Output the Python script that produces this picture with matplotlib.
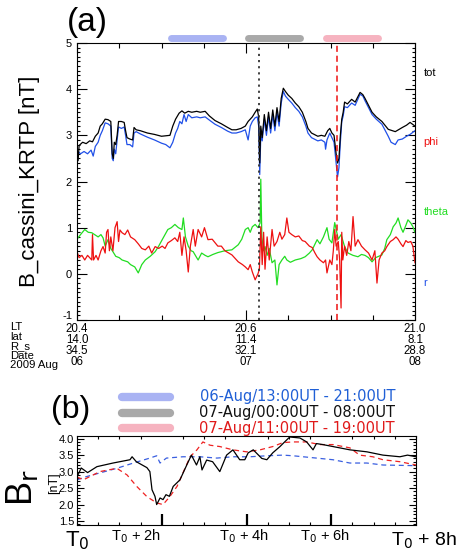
import matplotlib
matplotlib.use("Agg")
import matplotlib.pyplot as plt
from matplotlib.lines import Line2D
from matplotlib.ticker import MultipleLocator, FixedLocator, FuncFormatter
import matplotlib.transforms as mtransforms
from matplotlib import font_manager

plt.rcParams['font.family'] = ['Liberation Sans', 'DejaVu Sans']
_names = {f.name for f in font_manager.fontManager.ttflist}
NARROW = 'Liberation Sans Narrow' if 'Liberation Sans Narrow' in _names else 'Liberation Sans'

# ---------------- Panel (a) data (hours from 2009-08-06 00:00) ----------------
tot = [(0, 2.72), (0.15, 2.45), (0.3, 2.78), (0.8, 2.85), (1.3, 2.82), (1.8, 2.88), (2.2, 2.86),
       (2.6, 2.98), (3.0, 3.05), (3.3, 3.2), (3.6, 3.25), (4.0, 3.35), (4.4, 3.34), (4.8, 3.3),
       (5.0, 2.6), (5.15, 2.5), (5.3, 2.85), (5.5, 2.8), (5.7, 3.0), (5.9, 3.3), (6.3, 3.3),
       (6.7, 3.28), (6.9, 3.1), (7.1, 2.95), (7.5, 2.92), (7.9, 2.9), (8.1, 3.17), (8.4, 3.12),
       (9.0, 3.1), (10, 3.05), (11, 3.02), (12, 2.98), (12.6, 2.99), (13.2, 3.0), (13.6, 3.2),
       (14.0, 3.35), (14.5, 3.48), (14.9, 3.53), (15.3, 3.48), (15.8, 3.52), (16.3, 3.5),
       (17, 3.52), (17.5, 3.5), (18.2, 3.52), (18.8, 3.42), (19.6, 3.32), (20.5, 3.25),
       (21.4, 3.17), (22.0, 3.12), (22.6, 3.12), (23.3, 3.15), (23.9, 3.2), (24.3, 3.3),
       (24.9, 3.4), (25.3, 3.5), (25.6, 3.57), (25.8, 3.4), (25.95, 2.4), (26.1, 3.2),
       (26.3, 2.95), (26.6, 3.45), (26.9, 3.1), (27.2, 3.5), (27.5, 3.15), (27.8, 3.55),
       (28.1, 3.2), (28.4, 3.6), (28.7, 3.3), (29.0, 3.8), (29.3, 4.02), (29.6, 3.95),
       (30.0, 3.87), (30.5, 3.8), (31.0, 3.7), (31.5, 3.62), (32.0, 3.5), (32.5, 3.3),
       (32.8, 3.15), (33.3, 3.05), (34.2, 2.98), (34.7, 3.0), (35.2, 2.98), (35.6, 3.1),
       (35.9, 3.15), (36.2, 3.05), (36.5, 3.0), (36.8, 2.6), (37.0, 2.4), (37.2, 2.5),
       (37.4, 3.0), (37.6, 3.35), (37.8, 3.5), (38.0, 3.72), (38.4, 3.68), (39.0, 3.78),
       (39.5, 3.72), (40.2, 3.93), (40.6, 3.88), (40.9, 3.8), (41.4, 3.65), (41.9, 3.5),
       (42.5, 3.4), (43.3, 3.3), (44.2, 3.13), (45.2, 3.08), (46.2, 3.17), (46.8, 3.22),
       (47.3, 3.28), (48, 3.2)]

r_comp = [(0, 2.3), (0.15, 2.65), (0.5, 2.6), (1.0, 2.65), (1.5, 2.6), (2.0, 2.68), (2.3, 2.55),
          (2.6, 2.76), (3.0, 2.85), (3.3, 3.0), (3.6, 3.1), (4.0, 3.27), (4.4, 3.25), (4.8, 3.2),
          (5.0, 2.5), (5.15, 2.45), (5.3, 2.7), (5.5, 2.6), (5.7, 2.9), (5.9, 3.18), (6.3, 3.15),
          (6.7, 3.18), (6.9, 3.0), (7.1, 2.8), (7.5, 2.8), (7.9, 2.75), (8.1, 3.05), (8.4, 3.08),
          (9.0, 3.03), (10, 2.96), (11, 2.9), (12, 2.83), (12.6, 2.8), (13.2, 2.73), (13.6, 2.85),
          (14.0, 3.05), (14.3, 3.15), (14.6, 3.3), (14.9, 3.25), (15.2, 3.45), (15.5, 3.3),
          (15.8, 3.45), (16.3, 3.38), (17, 3.4), (17.5, 3.38), (18.2, 3.4), (18.8, 3.33),
          (19.6, 3.24), (20.5, 3.17), (21.4, 3.09), (22.0, 3.05), (22.6, 3.05), (23.3, 3.08),
          (23.9, 3.12), (24.3, 2.9), (24.6, 3.2), (24.9, 3.3), (25.3, 3.38), (25.6, 3.4),
          (25.8, 3.2), (25.95, 2.15), (26.1, 3.0), (26.3, 2.88), (26.6, 3.35), (26.9, 3.0),
          (27.2, 3.4), (27.5, 3.05), (27.8, 3.45), (28.1, 3.1), (28.4, 3.5), (28.7, 3.2),
          (29.0, 3.7), (29.3, 3.95), (29.6, 3.85), (30.0, 3.78), (30.5, 3.7), (31.0, 3.6),
          (31.5, 3.52), (32.0, 3.4), (32.5, 3.2), (32.8, 3.05), (33.3, 2.95), (34.2, 2.88),
          (34.7, 2.9), (35.2, 2.85), (35.3, 2.7), (35.5, 2.9), (35.9, 3.05), (36.2, 2.95),
          (36.5, 2.85), (36.8, 2.4), (37.0, 2.1), (37.2, 2.3), (37.4, 2.85), (37.6, 3.3),
          (37.8, 3.42), (38.0, 3.62), (38.4, 3.6), (39.0, 3.7), (39.5, 3.65), (40.2, 3.89),
          (40.6, 3.85), (40.9, 3.75), (41.4, 3.6), (41.9, 3.45), (42.5, 3.35), (43.3, 3.24),
          (44.2, 2.98), (44.6, 2.85), (45.2, 2.8), (45.6, 2.9), (46.2, 2.92), (46.8, 2.98),
          (47.3, 3.02), (48, 3.1)]

theta = [(0, 0.75), (0.5, 0.85), (1.1, 0.96), (1.6, 0.9), (2.1, 0.89), (2.5, 0.85), (3.0, 0.8),
         (3.4, 0.85), (3.7, 0.78), (4.0, 0.6), (4.4, 0.74), (4.8, 0.55), (5.1, 0.48), (5.5, 0.38),
         (6.0, 0.35), (6.4, 0.3), (6.8, 0.28), (7.2, 0.26), (7.6, 0.2), (8.2, 0.15), (8.7, 0.02),
         (9.2, 0.2), (9.7, 0.3), (10.4, 0.38), (11.1, 0.48), (11.6, 0.6), (12.1, 0.74),
         (12.5, 0.85), (12.9, 0.96), (13.4, 1.0), (13.9, 1.07), (14.4, 1.0), (14.9, 0.96),
         (15.1, 1.21), (15.4, 0.8), (15.8, 0.6), (16.2, 0.5), (16.5, 0.48), (17.0, 0.35),
         (17.2, 0.3), (17.7, 0.45), (18.2, 0.4), (18.6, 0.37), (19.3, 0.42), (20, 0.46),
         (21, 0.5), (22, 0.52), (22.9, 0.63), (23.4, 0.75), (23.9, 0.96), (24.3, 1.0),
         (24.6, 0.9), (24.9, 1.02), (25.3, 1.07), (25.7, 1.0), (26.0, 1.1), (26.1, 2.05),
         (26.25, 0.8), (26.5, 0.5), (26.7, 0.59), (27.0, 0.4), (27.3, 0.55), (27.7, 0.24),
         (28.1, 0.3), (28.4, -0.24), (28.7, 0.2), (29.1, 0.3), (29.5, 0.38), (29.8, 0.3),
         (30.3, 0.25), (31, 0.3), (31.8, 0.33), (32.4, 0.37), (33.0, 0.45), (33.4, 0.52),
         (34.1, 0.74), (34.5, 0.65), (35.0, 0.8), (35.5, 1.0), (35.8, 0.75), (36.2, 0.67),
         (36.6, 1.11), (37.1, 0.75), (37.5, 0.85), (38.0, 0.59), (38.5, 0.45), (39.2, 0.4),
         (39.9, 0.37), (40.4, 0.42), (40.9, 0.4), (41.4, 0.35), (41.9, 0.26), (42.4, 0.35),
         (43.3, 0.41), (43.7, 0.55), (44.0, 0.74), (44.5, 0.85), (44.9, 1.02), (45.3, 1.1),
         (45.6, 1.21), (46.0, 1.0), (46.3, 0.9), (46.7, 1.05), (47.0, 1.17), (47.4, 1.1),
         (47.7, 1.02), (48, 0.9)]

phi = [(0, 0.48), (0.3, 0.35), (0.7, 0.4), (1.1, 0.3), (1.5, 0.4), (1.8, 0.35), (2.1, 0.3),
       (2.2, 0.85), (2.35, 0.3), (2.7, 0.4), (3.0, 0.3), (3.4, 0.5), (3.7, 0.59), (4.0, 0.45),
       (4.2, 0.9), (4.4, 0.96), (4.6, 0.5), (4.8, 0.8), (5.1, 0.5), (5.4, 1.0), (5.7, 1.13),
       (5.9, 0.7), (6.1, 0.95), (6.4, 0.89), (6.8, 0.85), (7.2, 0.95), (7.6, 0.8), (8.2, 0.74),
       (8.7, 0.65), (9.2, 0.55), (9.7, 0.52), (10.2, 0.6), (10.6, 0.45), (11.1, 0.59),
       (11.6, 0.55), (12.1, 0.6), (12.5, 0.55), (12.9, 0.67), (13.4, 0.72), (13.9, 0.78),
       (14.3, 0.7), (14.6, 0.9), (14.9, 0.4), (15.2, 0.8), (15.5, 0.5), (15.8, 0.04),
       (16.1, 0.6), (16.5, 0.96), (16.8, 0.6), (17.2, 0.96), (17.7, 0.8), (18.1, 1.0),
       (18.6, 0.74), (19.2, 0.75), (20, 0.6), (20.5, 0.6), (21, 0.5), (22, 0.41), (22.9, 0.26),
       (23.5, 0.2), (23.9, 0.15), (24.3, 0.09), (24.6, 0.2), (24.9, 0.04), (25.3, -0.13),
       (25.7, 0.0), (25.9, 0.1), (26.1, 1.02), (26.3, 0.2), (26.5, 0.9), (26.7, 0.1),
       (27.0, 0.8), (27.3, 0.3), (27.7, 0.96), (28.0, 0.6), (28.4, 0.7), (28.8, 0.9),
       (29.1, 0.75), (29.5, 0.85), (29.8, 1.21), (30.1, 0.9), (30.5, 0.85), (31, 0.8),
       (31.5, 0.82), (32.0, 0.72), (32.4, 0.7), (33.0, 0.6), (33.4, 0.57), (33.8, 0.45),
       (34.1, 0.37), (34.5, 0.3), (35.0, 0.24), (35.3, 0.3), (35.5, 0.02), (35.9, 0.3),
       (36.2, 0.2), (36.4, 0.5), (36.6, 0.96), (36.8, 0.6), (37.1, 0.7), (37.3, 0.3),
       (37.5, -0.74), (37.6, 0.9), (37.75, 0.3), (38.0, 0.6), (38.3, 0.4), (38.6, 0.7),
       (38.9, 0.5), (39.2, 1.24), (39.5, 0.6), (39.9, 0.74), (40.4, 0.6), (40.9, 0.52),
       (41.4, 0.45), (41.9, 0.3), (42.3, 0.5), (42.6, -0.2), (42.9, 0.3), (43.3, 0.45),
       (43.7, 0.5), (44.0, 0.59), (44.5, 0.7), (44.9, 0.74), (45.3, 0.8), (45.6, 0.75),
       (46.0, 0.65), (46.3, 0.59), (46.7, 0.72), (47.0, 0.68), (47.4, 0.7), (47.7, 0.6),
       (48, 0.24)]

# interval bars (start, end hours) and event times
intervals = [(13, 21), (24, 32), (35, 43)]
interval_colors = ['#a9b3f3', '#a9a9a9', '#f6b3c0']
event_dotted = 25.8
event_dashed = 36.9

# x-axis annotation table
tick_hours = [0, 24, 48]
lt_vals = ['20.4', '20.6', '21.0']
lat_vals = ['14.0', '11.4', '8.1']
rs_vals = ['34.5', '32.1', '28.8']
date_vals = ['06', '07', '08']

# ---------------- Panel (b) data (hours from T0) ----------------
b_black = [(0, 2.84), (0.1, 3.11), (0.25, 2.97), (0.47, 3.15), (0.85, 3.26), (1.25, 3.36),
           (1.3, 3.45), (1.4, 3.3), (1.65, 3.12), (1.72, 3.0), (1.77, 2.45), (1.84, 2.25),
           (1.88, 2.0), (1.96, 2.2), (2.03, 2.15), (2.1, 2.3), (2.18, 2.25), (2.27, 2.55),
           (2.43, 2.75), (2.59, 3.2), (2.7, 3.5), (2.82, 3.2), (2.9, 3.45), (2.95, 3.05),
           (3.06, 3.35), (3.2, 3.3), (3.37, 3.0), (3.53, 3.5), (3.68, 3.66), (3.84, 3.36),
           (3.96, 3.36), (4.04, 3.57), (4.16, 3.66), (4.36, 3.4), (4.48, 3.36), (4.62, 3.57),
           (4.79, 3.76), (4.9, 3.9), (5.02, 4.05), (5.26, 4.02), (5.42, 3.9), (5.57, 3.66),
           (5.65, 3.85), (5.8, 3.82), (6.04, 3.76), (6.44, 3.66), (6.84, 3.6), (7.22, 3.5),
           (7.62, 3.45), (7.8, 3.5), (8.0, 3.45)]
b_red = [(0, 2.84), (0.15, 2.75), (0.54, 3.0), (0.94, 3.1), (1.18, 2.9), (1.41, 2.55),
         (1.65, 2.24), (1.88, 2.05), (2.03, 2.0), (2.19, 2.24), (2.36, 2.55), (2.5, 2.96),
         (2.67, 3.45), (2.83, 3.66), (2.97, 3.9), (3.14, 3.8), (3.37, 3.76), (3.68, 3.66),
         (4.0, 3.6), (4.32, 3.66), (4.62, 3.76), (4.86, 3.88), (5.1, 3.9), (5.42, 3.9),
         (5.73, 3.82), (6.04, 3.82), (6.44, 3.72), (6.67, 3.5), (6.98, 3.45), (7.22, 3.36),
         (7.62, 3.3), (8.0, 3.2)]
b_blue = [(0, 2.75), (0.2, 2.84), (0.54, 2.96), (0.94, 3.1), (1.33, 3.26), (1.72, 3.41),
          (1.88, 3.48), (1.96, 3.26), (2.11, 3.41), (2.5, 3.45), (2.9, 3.45), (3.3, 3.41),
          (3.68, 3.45), (4.08, 3.45), (4.48, 3.48), (4.86, 3.5), (5.1, 3.48), (5.65, 3.41),
          (6.04, 3.36), (6.44, 3.26), (6.84, 3.26), (7.22, 3.2), (8.0, 3.18)]
legend_labels = ['06-Aug/13:00UT - 21:00UT', '07-Aug/00:00UT - 08:00UT', '07-Aug/11:00UT - 19:00UT']
legend_text_colors = ['#1f5fd6', '#111111', '#e01a1a']
legend_bar_colors = ['#a9b3f3', '#a9a9a9', '#f6b3c0']


def unzip(pairs):
    return [p[0] for p in pairs], [p[1] for p in pairs]


W, H = 459, 552
fig = plt.figure(figsize=(W / 100, H / 100), dpi=100)

# ---------------- Panel (a) ----------------
axa = fig.add_axes([77 / W, 1 - 320 / H, 338 / W, 277 / H])
t, v = unzip(theta)
axa.plot(t, v, color='#22dd22', lw=0.9)
t, v = unzip(phi)
axa.plot(t, v, color='#ee1111', lw=0.9)
t, v = unzip(r_comp)
axa.plot(t, v, color='#2050e8', lw=0.9)
t, v = unzip(tot)
axa.plot(t, v, color='black', lw=0.9)

axa.axvline(event_dotted, color='#333333', ls=(0, (1.2, 2.2)), lw=1.3)
axa.axvline(event_dashed, color='#ee1111', ls=(0, (4, 2.5)), lw=1.1)

axa.set_xlim(0, 48)
axa.set_ylim(-1, 5)
axa.yaxis.set_major_locator(MultipleLocator(1))
axa.yaxis.set_minor_locator(MultipleLocator(0.1))
# the bottom label (-1) is drawn separately, slightly raised as in the original
axa.yaxis.set_major_formatter(FuncFormatter(lambda val, pos: '' if val < -0.5 else f'{val:.0f}'))
axa.xaxis.set_major_locator(FixedLocator(tick_hours))
axa.xaxis.set_minor_locator(MultipleLocator(6))
axa.tick_params(which='both', direction='in', top=True, right=True, labelsize=8, width=0.8)
axa.tick_params(which='major', length=7)
axa.tick_params(which='minor', length=3.5)
axa.tick_params(axis='y', which='minor', length=2.5)
axa.set_xticklabels([])
for s in axa.spines.values():
    s.set_linewidth(0.8)
ltrans = mtransforms.blended_transform_factory(axa.transAxes, axa.transData)
axa.text(-0.0145, -0.91, '-1', transform=ltrans, fontsize=8, ha='right', va='center')
axa.set_ylabel('B_cassini_KRTP [nT]', fontsize=16, family=[NARROW, 'DejaVu Sans'])
axa.yaxis.set_label_coords(-0.11, 0.5)

for (s0, s1), c in zip(intervals, interval_colors):
    axa.plot([s0 + 0.3, s1 - 0.3], [5.1, 5.1], color=c, lw=5, solid_capstyle='round',
             clip_on=False)

# right-side component labels
for lab, yv, c in [('tot', 4.35, 'black'), ('phi', 2.85, '#ee1111'),
                   ('theta', 1.35, '#22dd22'), ('r', -0.2, '#2050e8')]:
    axa.text(1.025, yv, lab, transform=ltrans, color=c, fontsize=8, va='center', ha='left')

# under-axis table
btrans = mtransforms.blended_transform_factory(axa.transData, fig.transFigure)
for h, a, b, c, d in zip(tick_hours, lt_vals, lat_vals, rs_vals, date_vals):
    axa.text(h, 1 - 322.5 / H, '\n'.join([a, b, c, d]), transform=btrans, ha='center', va='top',
             fontsize=8.3, linespacing=0.92)
fig.text(10 / W, 1 - 322.5 / H, 'LT\nlat\nR_s\nDate\n2009 Aug', ha='left', va='top',
         fontsize=8.1, linespacing=0.92)

fig.text(67 / W, 1 - 22 / H, '(a)', fontsize=24, va='center', ha='left')

# ---------------- Panel (b) ----------------
axb = fig.add_axes([77 / W, 1 - 525 / H, 339 / W, 89 / H])
t, v = unzip(b_blue)
axb.plot(t, v, color='#3a5fe0', lw=0.9, ls=(0, (4, 3)))
t, v = unzip(b_red)
axb.plot(t, v, color='#ee2222', lw=0.9, ls=(0, (4, 3)))
t, v = unzip(b_black)
axb.plot(t, v, color='black', lw=0.9)
axb.set_xlim(0, 8)
axb.set_ylim(1.38, 4.08)
axb.yaxis.set_major_locator(MultipleLocator(0.5))
axb.yaxis.set_minor_locator(MultipleLocator(0.1))
axb.yaxis.set_major_formatter(matplotlib.ticker.FormatStrFormatter('%.1f'))
axb.xaxis.set_major_locator(FixedLocator([2, 4, 6]))
axb.xaxis.set_minor_locator(MultipleLocator(0.5))
axb.tick_params(which='both', direction='in', top=True, right=True, labelsize=8, width=0.8,
                pad=2)
axb.tick_params(axis='x', which='major', length=8, width=1.6, top=False)
axb.tick_params(axis='x', which='minor', length=2)
axb.tick_params(axis='y', which='major', length=5)
axb.tick_params(axis='y', which='minor', length=2.5)
axb.set_xticklabels([])
for s in axb.spines.values():
    s.set_linewidth(0.8)

xtr = mtransforms.blended_transform_factory(axb.transData, fig.transFigure)
axb.text(0, 1 - 541 / H, 'T$_0$', transform=xtr, fontsize=16, ha='center', va='center')
for hx, lab in [(1.4, 'T$_0$ + 2h'), (3.95, 'T$_0$ + 4h'), (5.85, 'T$_0$ + 6h')]:
    axb.text(hx, 1 - 536 / H, lab, transform=xtr, fontsize=10.5, ha='center', va='center')
axb.text(7.4, 1 - 541 / H, 'T$_0$ + 8h', transform=xtr, fontsize=14, ha='left', va='center')

fig.text(22 / W, 1 - 488 / H, 'B$_\\mathrm{r}$', fontsize=26, rotation=90, ha='center', va='center')
fig.text(54 / W, 1 - 483 / H, '[nT]', fontsize=9, rotation=90, ha='center', va='center')
fig.text(51 / W, 1 - 410 / H, '(b)', fontsize=23, va='center', ha='left')

for i, (lab, tc, bc) in enumerate(zip(legend_labels, legend_text_colors, legend_bar_colors)):
    yy = 1 - (397 + 15.5 * i) / H
    fig.add_artist(Line2D([122 / W, 170 / W], [yy, yy], transform=fig.transFigure, color=bc,
                          lw=6, solid_capstyle='round'))
    fig.text(395 / W, yy, lab, color=tc, fontsize=10.5, ha='right', va='center',
             family=['DejaVu Sans'])

fig.savefig('out.png', dpi=100)
